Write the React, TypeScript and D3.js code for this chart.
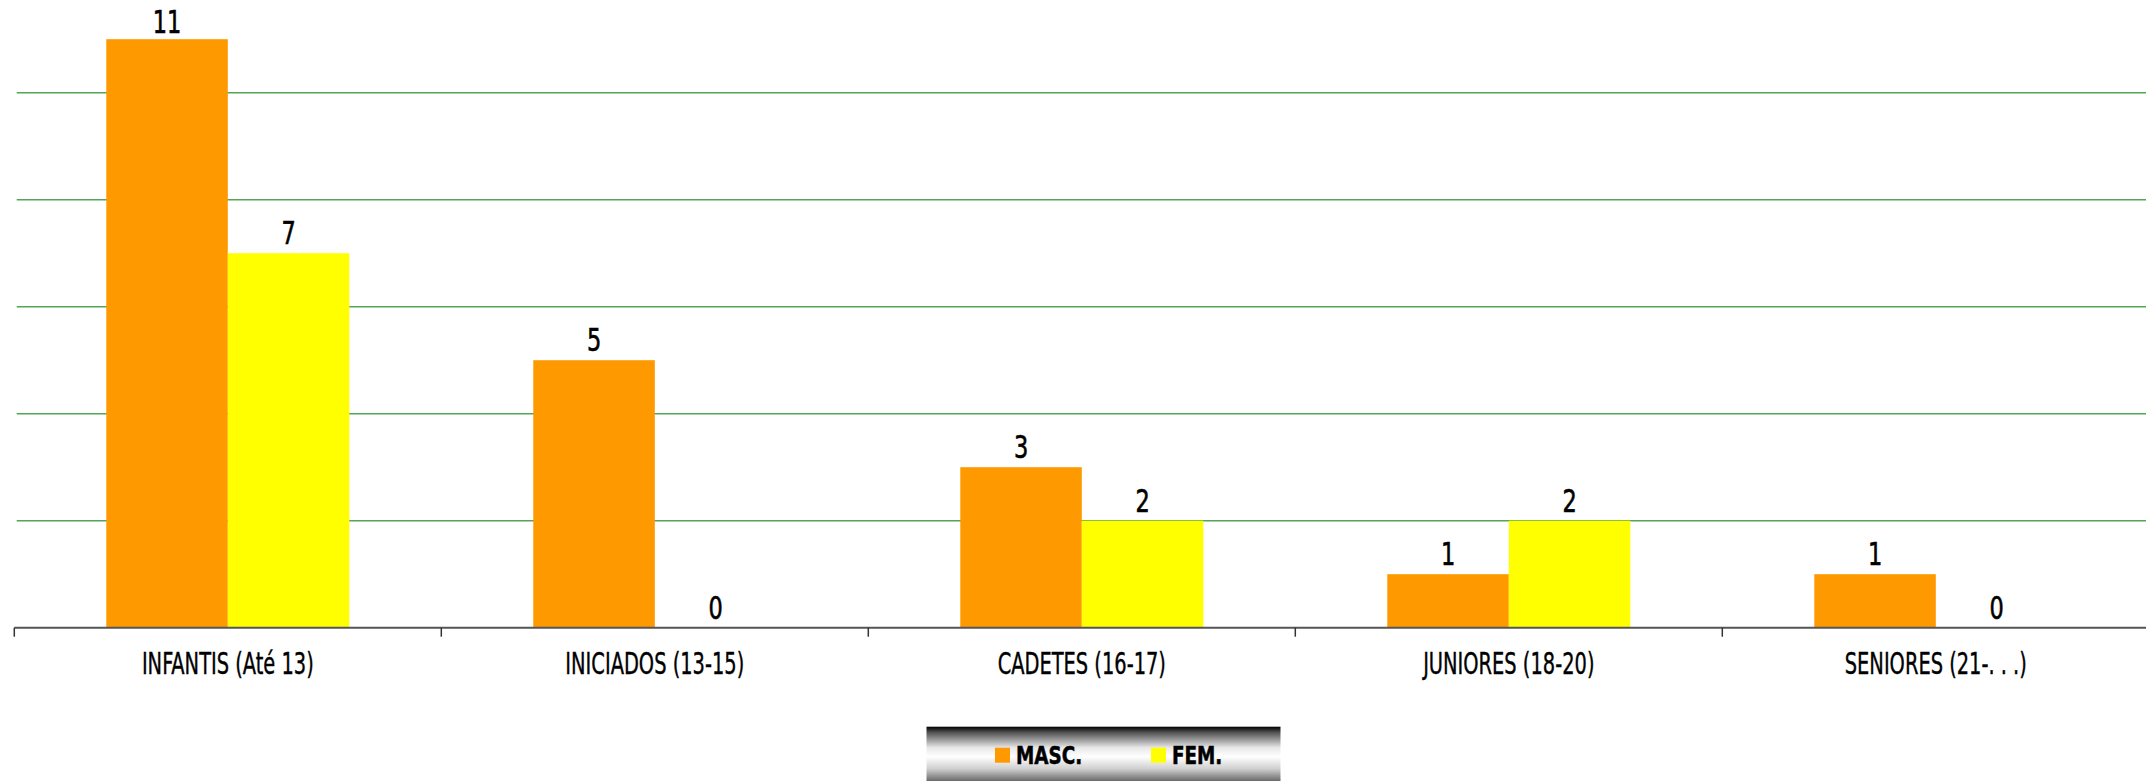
import * as d3 from 'd3';

const categories = ['INFANTIS (Até 13)', 'INICIADOS (13-15)', 'CADETES (16-17)', 'JUNIORES (18-20)', 'SENIORES (21-. . .)'];
const seriesNames = ['MASC.', 'FEM.'];
const masc = [11, 5, 3, 1, 1];
const fem = [7, 0, 2, 2, 0];
const seriesColors = ['#FF9900', '#FFFF00'];
const gridValues = [2, 4, 6, 8, 10, 12];

const W = 2146;
const H = 781;
const FONT = '"Liberation Sans Narrow", "DejaVu Sans Condensed", "Roboto", sans-serif';

export default function App() {
  const left = 14.3;
  const step = 427;
  const baseY = 627.7;

  const x0 = d3.scaleBand<string>().domain(categories).range([left, left + step * categories.length]).padding(0);
  const x1 = d3.scaleBand<string>().domain(seriesNames).range([0, x0.bandwidth()]).paddingInner(0).paddingOuter(0.757);
  const y = d3.scaleLinear().domain([0, 12]).range([baseY, baseY - 12 * 53.5]);

  const values = [masc, fem];

  return (
    <svg width={W} height={H} style={{ position: 'absolute', left: 0, top: 0, display: 'block', background: '#fff' }}>
      <defs>
        <linearGradient id="legGrad" x1="0" y1="0" x2="0" y2="1">
          <stop offset="0" stopColor="#000" />
          <stop offset="0.1" stopColor="#555" />
          <stop offset="0.35" stopColor="#e8e8e8" />
          <stop offset="0.5" stopColor="#fff" />
          <stop offset="0.7" stopColor="#d0d0d0" />
          <stop offset="1" stopColor="#3a3a3a" />
        </linearGradient>
      </defs>

      {/* gridlines */}
      {gridValues.map((g) => (
        <line key={g} x1={16.7} x2={W} y1={y(g)} y2={y(g)} stroke="#52a852" strokeWidth={1.4} />
      ))}

      {/* bars */}
      {categories.map((c, ci) => (
        <g key={c} transform={`translate(${x0(c)},0)`}>
          {seriesNames.map((s, si) => {
            const v = values[si][ci];
            const bx = x1(s)!;
            const by = y(v);
            const ly = Math.max(by - 9, 33);
            return (
              <g key={s}>
                {v > 0 && (
                  <rect x={bx} y={by} width={x1.bandwidth()} height={baseY - by} fill={seriesColors[si]} />
                )}
                <text
                  transform={`translate(${bx + x1.bandwidth() / 2},${ly}) scale(0.78,1)`}
                  textAnchor="middle"
                  fontFamily={FONT}
                  fontSize={32}
                  fontWeight={500}
                  stroke="#000"
                  strokeWidth={0.6}
                  fill="#000"
                >
                  {v}
                </text>
              </g>
            );
          })}
        </g>
      ))}

      {/* x axis */}
      <line x1={left} x2={W} y1={baseY} y2={baseY} stroke="#555" strokeWidth={2} />
      {categories.map((c) => (
        <line key={'t' + c} x1={x0(c)!} x2={x0(c)!} y1={baseY} y2={baseY + 9} stroke="#333" strokeWidth={1.5} />
      ))}
      {categories.map((c) => (
        <text
          key={'l' + c}
          transform={`translate(${x0(c)! + x0.bandwidth() / 2},674) scale(0.72,1)`}
          textAnchor="middle"
          fontFamily={FONT}
          fontSize={30}
          stroke="#000"
          strokeWidth={0.4}
          fill="#000"
        >
          {c}
        </text>
      ))}

      {/* legend */}
      <rect x={926.5} y={726.7} width={354} height={60} fill="url(#legGrad)" />
      {seriesNames.map((s, si) => {
        const lx = si === 0 ? 995 : 1151;
        return (
          <g key={'leg' + s}>
            <rect x={lx} y={747.7} width={15} height={15} fill={seriesColors[si]} />
            <text
              transform={`translate(${lx + 21},764) scale(0.85,1)`}
              fontFamily={FONT}
              fontSize={24}
              fontWeight="bold"
              stroke="#000"
              strokeWidth={0.5}
              fill="#000"
            >
              {s}
            </text>
          </g>
        );
      })}
    </svg>
  );
}
